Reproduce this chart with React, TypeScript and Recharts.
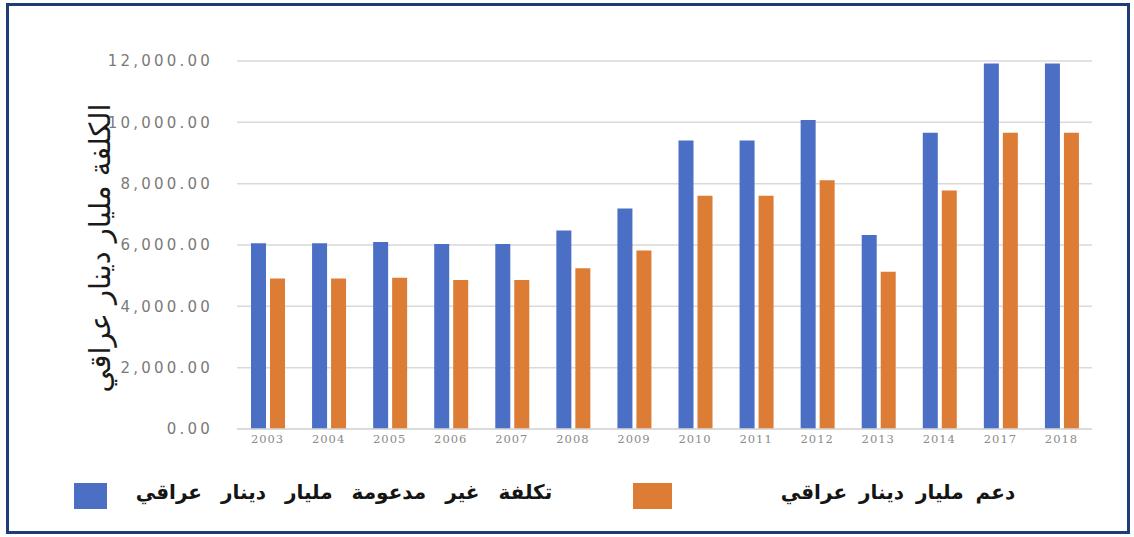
import React from 'react';
import { BarChart, Bar, XAxis, YAxis, CartesianGrid, Legend } from 'recharts';

const years = ['2003', '2004', '2005', '2006', '2007', '2008', '2009', '2010', '2011', '2012', '2013', '2014', '2017', '2018'];
const unsubsidizedCost = [6060, 6060, 6100, 6030, 6030, 6470, 7190, 9410, 9410, 10080, 6330, 9660, 11920, 11920];
const subsidy = [4910, 4910, 4930, 4860, 4860, 5240, 5820, 7610, 7610, 8110, 5130, 7780, 9660, 9660];
const yTicks = [0, 2000, 4000, 6000, 8000, 10000, 12000];

const seriesNames = {
  cost: 'تكلفة غير مدعومة مليار دينار عراقي',
  subsidy: 'دعم مليار دينار عراقي',
};
const yTitle = 'الكلفة مليار دينار عراقي';

const BLUE = '#4a6fc4';
const ORANGE = '#dc7c35';

const data = years.map((y, i) => ({ year: y, cost: unsubsidizedCost[i], subsidy: subsidy[i] }));

const fmt = (v: number) =>
  v.toLocaleString('en-US', { minimumFractionDigits: 2, maximumFractionDigits: 2 });

const YTitle = (props: any) => {
  const vb = props.viewBox || { x: 0, y: 0, width: 0, height: 0 };
  const cx = vb.x + 100;
  const cy = vb.y + vb.height / 2 + 3;
  return (
    <text
      x={cx}
      y={cy}
      transform={`rotate(-90 ${cx} ${cy})`}
      textAnchor="middle"
      dominantBaseline="central"
      fontFamily="DejaVu Sans"
      fontSize={29}
      fill="#1a1a1a"
      direction="rtl"
    >
      {yTitle}
    </text>
  );
};

const legendText: React.CSSProperties = {
  position: 'absolute',
  top: 2,
  textAlign: 'center',
  fontSize: 20,
  fontWeight: 'bold',
  color: '#151515',
  whiteSpace: 'nowrap',
};

const LegendContent = () => (
  <div style={{ position: 'relative', width: 1134, height: 40, fontFamily: 'DejaVu Sans' }}>
    <div style={{ position: 'absolute', left: 74, top: 5, width: 33, height: 26, background: BLUE }} />
    <div dir="rtl" style={{ ...legendText, left: 128, width: 432, wordSpacing: 12 }}>
      {seriesNames.cost}
    </div>
    <div style={{ position: 'absolute', left: 633, top: 5, width: 39, height: 26, background: ORANGE }} />
    <div dir="rtl" style={{ ...legendText, left: 780, width: 236, wordSpacing: 5 }}>
      {seriesNames.subsidy}
    </div>
  </div>
);

export default function App() {
  return (
    <div style={{ position: 'relative', width: 1134, height: 537, background: '#fff', overflow: 'hidden' }}>
      <style>{`body{margin:0}`}</style>
      <div
        style={{
          position: 'absolute',
          left: 6,
          top: 3,
          width: 1124,
          height: 531,
          border: '3px solid #1d3c78',
          boxSizing: 'border-box',
        }}
      />
      <div style={{ position: 'absolute', left: 0, top: 0 }}>
        <BarChart
          width={1134}
          height={537}
          data={data}
          margin={{ top: 61, right: 42, bottom: 78, left: 0 }}
          barSize={15}
          barGap={4}
        >
          <CartesianGrid vertical={false} stroke="#d9d9d9" strokeWidth={1.5} />
          <XAxis
            dataKey="year"
            height={30}
            axisLine={{ stroke: '#d9d9d9', strokeWidth: 1.5 }}
            tickLine={false}
            tickSize={0}
            tickMargin={6}
            tick={{ fill: '#8a8a8a', fontSize: 11.5, fontFamily: 'DejaVu Serif', letterSpacing: 1 }}
            interval={0}
          />
          <YAxis
            width={237}
            domain={[0, 12000]}
            ticks={yTicks}
            tickFormatter={fmt}
            axisLine={false}
            tickLine={false}
            tickSize={0}
            tickMargin={24}
            tick={{ fill: '#7a7a7a', fontSize: 15, fontFamily: 'DejaVu Sans', letterSpacing: 3.2 }}
            label={<YTitle />}
          />
          <Legend
            verticalAlign="middle"
            align="center"
            layout="horizontal"
            wrapperStyle={{ top: 478, left: 0, width: 1134 }}
            content={<LegendContent />}
          />
          <Bar dataKey="cost" name={seriesNames.cost} fill={BLUE} isAnimationActive={false} />
          <Bar dataKey="subsidy" name={seriesNames.subsidy} fill={ORANGE} isAnimationActive={false} />
        </BarChart>
      </div>
    </div>
  );
}
